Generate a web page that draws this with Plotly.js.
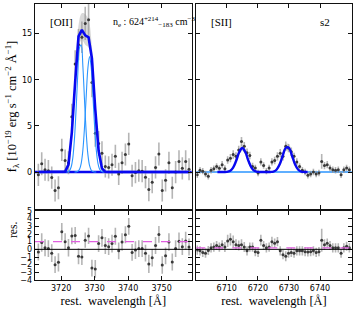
<!DOCTYPE html>
<html><head><meta charset="utf-8">
<script src="https://cdn.plot.ly/plotly-3.0.1.min.js"></script>
<style>html,body{margin:0;padding:0;background:#fff}#c{width:357px;height:314px}</style>
</head><body><div id="c"></div>
<script>
// ---------- [OII] panel data ----------
const oiiWave = [3713.2,3714.2,3715.2,3716.2,3717.2,3718.2,3719.2,3720.2,3721.2,3722.2,
 3723.2,3724.2,3725.2,3726.2,3727.2,3728.2,3729.2,3730.2,3731.2,3732.2,
 3733.2,3734.2,3735.2,3736.2,3737.2,3738.2,3739.2,3740.2,3741.2,3742.2,
 3743.2,3744.2,3745.2,3746.2,3747.2,3748.2,3749.2,3750.2,3751.2,3752.2,
 3753.2,3754.2,3755.2,3756.2,3757.2,3758.2];
const oiiFlux = [-0.3,0.9,0.25,0.15,-0.6,-2.0,-1.7,2.4,1.25,1.0,
 6.0,11.7,13.8,14.6,16.1,16.5,9.7,4.2,3.1,2.05,
 0.6,0.5,0.79,1.7,-0.2,1.0,1.9,3.05,-0.4,-0.05,
 0.15,0.1,-0.55,-1.9,-1.1,0.5,1.95,-2.0,-0.9,1.0,
 -1.7,0.0,1.15,0.4,1.15,0.3];
const oiiErr = [1.2,1.25,1.2,1.15,1.2,1.2,1.25,1.2,1.2,1.25,
 1.4,1.5,1.7,1.7,1.8,1.75,1.6,1.45,1.35,1.3,
 1.2,1.2,1.2,1.25,1.2,1.2,1.2,1.2,1.2,1.15,
 1.2,1.2,1.2,1.25,1.2,1.2,1.25,1.2,1.2,1.2,
 1.2,1.2,1.2,1.2,1.2,1.2];
const oiiModel = [0,0,0,0,0,0,0,0,0.05,0.8,
 4.3,9.8,14.7,15.4,14.8,14.6,12.3,6.8,2.3,0.4,
 0.03,0,0,0,0,0,0,0,0,0,
 0,0,0,0,0,0,0,0,0,0,
 0,0,0,0,0,0];
const oiiBandWave = [3719.2,3720.2,3721.2,3722.2,3723.2,3724.2,3725.2,3726.2,3727.2,3728.2,3729.2,3730.2,3731.2,3732.2,3733.2,3734.2];
const oiiBandHi = [0.05,0.1,0.3,1.4,5.4,11.0,15.9,17.2,17.1,16.5,13.6,7.8,2.9,0.7,0.12,0.05];
const oiiBandLo = [-0.05,-0.1,-0.1,0.35,3.3,8.7,13.6,14.3,13.8,13.5,11.1,5.8,1.8,0.15,-0.05,-0.05];
const comp1Wave = [3721.5,3722.0,3722.5,3723.0,3723.5,3724.0,3724.5,3725.0,3725.5,3726.0,3726.5,3727.0,3727.5,3728.0,3728.5,3729.0,3729.5,3730.0,3730.5];
const comp1Flux = [0.01,0.04,0.16,0.55,1.57,3.67,6.97,10.75,13.49,13.77,11.43,7.72,4.24,1.89,0.69,0.20,0.05,0.01,0];
const comp2Wave = [3724.0,3724.5,3725.0,3725.5,3726.0,3726.5,3727.0,3727.5,3728.0,3728.5,3729.0,3729.5,3730.0,3730.5,3731.0,3731.5,3732.0,3732.5,3733.0];
const comp2Flux = [0.003,0.02,0.08,0.30,0.95,2.39,4.93,8.27,11.27,12.5,11.27,8.27,4.93,2.39,0.95,0.30,0.08,0.02,0];
const oiiRes = [-0.35,0.9,0.2,0.1,-0.5,-2.0,-1.7,2.3,1.0,0.2,
 1.75,1.8,-0.9,-1.0,1.2,1.75,-2.45,-2.55,0.75,1.5,
 0.5,0.35,0.75,1.7,-0.2,0.95,1.9,3.0,-0.4,-0.1,
 0.1,0.1,-0.5,-1.9,-1.1,0.5,1.95,-2.05,-0.85,0.95,
 -1.65,0.1,1.05,0.35,1.1,0.3];
const oiiResErr = [1.1,1.2,1.1,1.1,1.15,1.1,1.2,1.15,1.1,1.15,
 1.1,1.1,1.05,1.05,1.0,1.05,1.1,1.15,1.1,1.15,
 1.1,1.1,1.15,1.1,1.1,1.15,1.1,1.1,1.1,1.15,
 1.1,1.1,1.1,1.2,1.15,1.1,1.1,1.15,1.1,1.15,
 1.1,1.1,1.15,1.1,1.2,1.1];
const oiiResLevel = 1.0;

// ---------- [SII] panel data ----------
const siiWave = [6700.50,6701.39,6702.28,6703.17,6704.06,6704.95,6705.84,6706.73,6707.62,6708.51,
 6709.40,6710.29,6711.18,6712.07,6712.96,6713.85,6714.74,6715.63,6716.52,6717.41,
 6718.30,6719.19,6720.08,6720.97,6721.86,6722.75,6723.64,6724.53,6725.42,6726.31,
 6727.20,6728.09,6728.98,6729.87,6730.76,6731.65,6732.54,6733.43,6734.32,6735.21,
 6736.10,6736.99,6737.88,6738.77,6739.66,6740.55,6741.44,6742.33,6743.22,6744.11,
 6745.00,6745.89,6746.78,6747.67,6748.56,6749.45];
const siiFlux = [-0.3,0.2,0.1,-0.2,-0.45,0.2,0.35,0.6,0.4,0.8,
 0.35,1.3,1.5,1.9,1.7,2.4,3.3,2.8,2.1,1.8,
 0.6,0.45,-0.1,1.1,0.7,0.1,0.45,1.1,1.25,1.7,
 2.05,1.7,2.8,2.6,2.2,1.7,1.1,0.6,0.2,0.0,
 -0.35,-0.2,0.0,-0.2,-0.1,1.15,0.7,0.8,0.45,0.25,
 0.2,0.25,-0.3,0.25,0.45,0.25];
const siiErr = [0.35,0.35,0.35,0.35,0.35,0.35,0.35,0.35,0.35,0.4,
 0.4,0.4,0.45,0.45,0.45,0.45,0.5,0.45,0.45,0.4,
 0.4,0.35,0.35,0.4,0.35,0.35,0.35,0.4,0.4,0.45,
 0.45,0.45,0.5,0.45,0.45,0.4,0.4,0.35,0.35,0.35,
 0.35,0.35,0.35,0.35,0.35,0.8,0.4,0.4,0.35,0.35,
 0.35,0.35,0.35,0.35,0.35,0.35];
const siiModelWave = [6707,6708,6709,6710,6711,6712,6713,6714,6715,6716,6717,6718,6719,6720,6721,
 6722,6723,6724,6725,6726,6727,6728,6729,6730,6731,6732,6733,6734,6735,6736];
const siiModel = [0,0,0.01,0.02,0.11,0.45,1.19,2.14,2.6,2.14,1.19,0.45,0.11,0.02,0,
 0,0,0.01,0.05,0.25,0.81,1.77,2.62,2.62,1.77,0.81,0.25,0.05,0.01,0];
const siiBandHi = [0.02,0.02,0.03,0.05,0.18,0.6,1.45,2.5,3.0,2.5,1.4,0.58,0.17,0.05,0.02,
 0.02,0.02,0.03,0.1,0.38,1.05,2.1,3.05,3.05,2.1,1.0,0.35,0.09,0.03,0.02];
const siiBandLo = [-0.02,-0.02,-0.01,0,0.06,0.33,0.98,1.85,2.3,1.85,0.98,0.33,0.06,0,-0.02,
 -0.02,-0.02,-0.01,0.02,0.15,0.62,1.5,2.3,2.3,1.5,0.62,0.15,0.02,-0.01,-0.02];
const siiRes = [-0.1,-0.2,-0.4,-0.5,-0.15,0.2,0.3,0.5,0.3,0.6,
 0.3,1.1,1.3,1.0,0.6,0.5,0.6,0.3,-0.2,0.3,
 0.3,-0.3,-0.4,1.2,0.5,0.2,0.3,1.0,0.8,1.0,
 -0.2,-0.7,-0.9,-0.5,-0.4,-0.5,-0.2,-0.2,-0.2,-0.3,
 -0.35,-0.3,-0.2,-0.4,-0.3,1.2,0.6,0.8,0.5,0.2,
 0.2,0.2,-0.5,0.2,0.4,0.2];
const siiResErr = [0.6,0.6,0.6,0.6,0.6,0.6,0.6,0.6,0.6,0.6,
 0.65,0.8,0.8,0.8,0.7,0.65,0.7,0.65,0.6,0.6,
 0.6,0.6,0.6,0.7,0.6,0.6,0.6,0.65,0.6,0.6,
 0.6,0.6,0.65,0.6,0.6,0.6,0.6,0.6,0.6,0.6,
 0.6,0.6,0.6,0.6,0.6,1.5,0.7,0.6,0.6,0.6,
 0.6,0.6,0.6,0.6,0.6,0.6];
const siiResLevel = 0.2;

// ---------- styles ----------
const DARK = '#0808f0', LIGHT = '#2a95ff', GREY = 'rgba(150,150,150,0.7)', PT = '#3a3a3a';
const SERIF = 'Liberation Serif, DejaVu Serif, serif';
const TICKF = {family:'DejaVu Sans, sans-serif', size:8, color:'#000'};

function pts(x, y, e, xa, ya){
  return {x:x, y:y, xaxis:xa, yaxis:ya, type:'scatter', mode:'markers',
    marker:{size:3, color:PT},
    error_y:{type:'data', array:e, visible:true, color:GREY, thickness:1.6, width:0},
    hoverinfo:'skip'};
}
function band(x, hi, lo, xa, ya){
  return [
    {x:x, y:hi, xaxis:xa, yaxis:ya, type:'scatter', mode:'lines', line:{width:0, shape:'spline'}, hoverinfo:'skip'},
    {x:x, y:lo, xaxis:xa, yaxis:ya, type:'scatter', mode:'lines', line:{width:0, shape:'spline'}, fill:'tonexty', fillcolor:'rgba(120,120,120,0.28)', hoverinfo:'skip'}
  ];
}
const traces = [].concat(
  band(oiiBandWave, oiiBandHi, oiiBandLo, 'x', 'y'),
  [pts(oiiWave, oiiFlux, oiiErr, 'x', 'y'),
   {x:comp1Wave, y:comp1Flux, xaxis:'x', yaxis:'y', type:'scatter', mode:'lines', line:{color:LIGHT, width:1.1, shape:'spline'}},
   {x:comp2Wave, y:comp2Flux, xaxis:'x', yaxis:'y', type:'scatter', mode:'lines', line:{color:LIGHT, width:1.1, shape:'spline'}},
   {x:oiiWave, y:oiiModel, xaxis:'x', yaxis:'y', type:'scatter', mode:'lines', line:{color:DARK, width:2.6}}],
  band(siiModelWave, siiBandHi, siiBandLo, 'x2', 'y2'),
  [pts(siiWave, siiFlux, siiErr, 'x2', 'y2'),
   {x:siiModelWave, y:siiModel, xaxis:'x2', yaxis:'y2', type:'scatter', mode:'lines', line:{color:DARK, width:2.4, shape:'spline'}},
   pts(oiiWave, oiiRes, oiiResErr, 'x3', 'y3'),
   pts(siiWave, siiRes, siiResErr, 'x4', 'y4')]
);

const XL = [35/357, 191.7/357], XR = [196.3/357, 351.7/357];
const YT = [1-209/314, 1-4/314], YB = [1-280/314, 1-211/314];
function ax(extra){
  return Object.assign({showline:true, mirror:'ticks', linecolor:'#111', linewidth:1.3,
    ticks:'inside', ticklen:4, tickwidth:1, tickcolor:'#111', showgrid:false, zeroline:false,
    tickfont:TICKF, fixedrange:true}, extra);
}
const layout = {
  width:357, height:314, margin:{l:0, r:0, t:0, b:0}, showlegend:false,
  paper_bgcolor:'#fff', plot_bgcolor:'#fff',
  xaxis: ax({domain:XL, anchor:'y', range:[3712.2,3759], tick0:3720, dtick:10, showticklabels:false}),
  yaxis: ax({domain:YT, anchor:'x', range:[-4,18.2], tick0:0, dtick:5,
    title:{text:'f<sub>λ</sub> [10<sup>−19</sup> erg s<sup>−1</sup> cm<sup>−2</sup> Å<sup>−1</sup>]', font:{family:SERIF, size:12.5, color:'#000'}, standoff:2}}),
  xaxis2: ax({domain:XR, anchor:'y2', range:[6700.2,6750.2], tick0:6710, dtick:10, showticklabels:false}),
  yaxis2: ax({domain:YT, anchor:'x2', range:[-4,18.2], tick0:0, dtick:5, showticklabels:false}),
  xaxis3: ax({domain:XL, anchor:'y3', range:[3712.2,3759], tick0:3720, dtick:10,
    title:{text:'rest.  wavelength [Å]', font:{family:SERIF, size:12.5, color:'#000'}, standoff:4}}),
  yaxis3: ax({domain:YB, anchor:'x3', range:[-4,5], tick0:0, dtick:1}),
  xaxis4: ax({domain:XR, anchor:'y4', range:[6700.2,6750.2], tick0:6710, dtick:10,
    title:{text:'rest.  wavelength [Å]', font:{family:SERIF, size:12.5, color:'#000'}, standoff:4}}),
  yaxis4: ax({domain:YB, anchor:'x4', range:[-4,5], tick0:0, dtick:1, showticklabels:false}),
  shapes: [
    {type:'line', xref:'x domain', yref:'y', x0:0, x1:1, y0:0, y1:0, line:{color:DARK, width:2.6}, layer:'below'},
    {type:'line', xref:'x2 domain', yref:'y2', x0:0, x1:1, y0:0, y1:0, line:{color:LIGHT, width:1.6}, layer:'below'},
    {type:'line', xref:'x3 domain', yref:'y3', x0:0, x1:1, y0:0, y1:0, line:{color:'#000', width:1}, layer:'above'},
    {type:'line', xref:'x4 domain', yref:'y4', x0:0, x1:1, y0:0, y1:0, line:{color:'#000', width:1}, layer:'above'},
    {type:'line', xref:'x3 domain', yref:'y3', x0:0, x1:1, y0:oiiResLevel, y1:oiiResLevel, line:{color:'#e060e0', width:1.3, dash:'dash'}, layer:'above'},
    {type:'line', xref:'x4 domain', yref:'y4', x0:0, x1:1, y0:siiResLevel, y1:siiResLevel, line:{color:'#e060e0', width:1.3, dash:'dash'}, layer:'above'}
  ],
  annotations: [
    {xref:'paper', yref:'paper', x:61/357, y:1-22/314, xanchor:'center', yanchor:'middle', text:'[OII]', showarrow:false, font:{family:SERIF, size:11, color:'#000'}},
    {xref:'paper', yref:'paper', x:111/357, y:1-22/314, xanchor:'left', yanchor:'middle', text:'n<sub>e</sub> : 624<sup>+214</sup><sub>−183</sub> cm<sup>−3</sup>', showarrow:false, font:{family:SERIF, size:10, color:'#000'}},
    {xref:'paper', yref:'paper', x:221/357, y:1-22/314, xanchor:'center', yanchor:'middle', text:'[SII]', showarrow:false, font:{family:SERIF, size:11, color:'#000'}},
    {xref:'paper', yref:'paper', x:325/357, y:1-22/314, xanchor:'center', yanchor:'middle', text:'s2', showarrow:false, font:{family:SERIF, size:11, color:'#000'}},
    {xref:'paper', yref:'paper', x:13/357, y:1-230/314, xanchor:'center', yanchor:'middle', text:'res.', textangle:-90, showarrow:false, font:{family:SERIF, size:11.5, color:'#000'}}
  ]
};
Plotly.newPlot('c', traces, layout, {staticPlot:true, displayModeBar:false});
</script>
</body></html>
